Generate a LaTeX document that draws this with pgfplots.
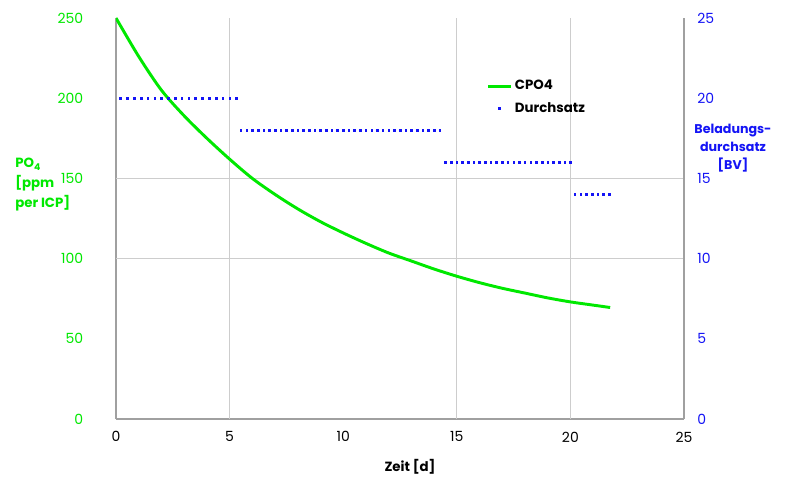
\documentclass[border=0pt]{standalone}
\usepackage{fontspec}
\setmainfont{Poppins}
\usepackage{pgfplots}
\pgfplotsset{compat=1.18}
\definecolor{cgreen}{RGB}{0,232,0}
\definecolor{cblue}{RGB}{20,20,245}
\definecolor{axgray}{RGB}{160,160,160}
\definecolor{gridgray}{RGB}{205,205,205}

% CPO4 over time (d)
\pgfplotstableread{
t    c
0    250
1    226
2    205
3    189
4    175
5    162
6    150
7    140
8    131
9    123
10   116
11   109.5
12   103.5
13   98.5
14   93.5
15   89
16   85
17   81.5
18   78.5
19   75.5
20   73
21   71
21.75 69.5
}\cpo

% Durchsatz (BV)
\pgfplotstableread{
t    bv
0.2  20
0.5  20
0.8  20
1.1  20
1.4  20
1.7  20
2.0  20
2.3  20
2.6  20
2.9  20
3.2  20
3.5  20
3.8  20
4.1  20
4.4  20
4.7  20
5.0  20
5.3  20
5.5  18
5.75 18
6.0  18
6.25 18
6.5  18
6.75 18
7.0  18
7.25 18
7.5  18
7.75 18
8.0  18
8.25 18
8.5  18
8.75 18
9.0  18
9.25 18
9.5  18
9.75 18
10.0 18
10.25 18
10.5 18
10.75 18
11.0 18
11.25 18
11.5 18
11.75 18
12.0 18
12.25 18
12.5 18
12.75 18
13.0 18
13.25 18
13.5 18
13.75 18
14.0 18
14.25 18
14.5 16
14.75 16
15.0 16
15.25 16
15.5 16
15.75 16
16.0 16
16.25 16
16.5 16
16.75 16
17.0 16
17.25 16
17.5 16
17.75 16
18.0 16
18.25 16
18.5 16
18.75 16
19.0 16
19.25 16
19.5 16
19.75 16
20.0 16
20.2 14
20.45 14
20.7 14
20.95 14
21.2 14
21.45 14
21.7 14
}\durch

\begin{document}
\begin{tikzpicture}[x=1pt,y=1pt]
\useasboundingbox (-87,-43.5) rectangle (507.75,314.25);
\pgfplotsset{
  common/.style={
    scale only axis, width=426pt, height=300.75pt,
    xmin=0, xmax=25,
    axis line style={axgray, line width=0.9pt},
    major tick length=0pt,
    tick label style={font=\fontsize{10.5}{12}\selectfont},
    /pgf/number format/assume math mode=true,
  }
}
\begin{axis}[common,
  ymin=0, ymax=250,
  axis x line*=bottom, axis y line*=left,
  xtick={0,5,...,25}, ytick={0,50,...,250},
  extra x ticks={5,15,20}, extra x tick labels={},
  extra y ticks={100,150}, extra y tick labels={},
  extra x tick style={grid=major},
  extra y tick style={grid=major},
  major grid style={gridgray, line width=0.9pt},
  yticklabel style={text=cgreen, xshift=-21pt},
  xticklabel style={text=black, yshift=-6pt},
]
\addplot[cgreen, line width=2.2pt, smooth, tension=0.5] table[x=t, y=c] {\cpo};
\end{axis}
\begin{axis}[common,
  ymin=0, ymax=25,
  axis x line=none, axis y line*=right,
  ytick={0,5,...,25},
  yticklabel style={text=cblue, xshift=6.5pt},
  legend style={at={(0.652,0.852)}, anchor=north west, draw=none, fill=none,
    inner sep=0pt, row sep=4pt,
    font=\fontsize{10}{12}\selectfont\bfseries},
  legend cell align=left,
]
\addlegendimage{cgreen, line width=2.2pt}
\addlegendentry{CPO4}
\addplot[only marks, mark=square*, mark size=0.6pt, cblue] table[x=t, y=bv] {\durch};
\addlegendentry{Durchsatz}
\end{axis}
\node[anchor=west, align=left, text=cgreen, inner sep=0pt,
  font=\fontsize{10}{15}\selectfont\bfseries] at (-75.75,175.5)
  {PO\textsubscript{4}\\{[ppm}\\per ICP]};
\node[align=center, text=cblue, inner sep=0pt,
  font=\fontsize{9.5}{13.5}\selectfont\bfseries] at (462.75,203.25)
  {Beladungs-\\durchsatz\\{[BV]}};
\node[inner sep=0pt, font=\fontsize{10}{12}\selectfont\bfseries] at (220.5,-36) {Zeit [d]};
\end{tikzpicture}
\end{document}
